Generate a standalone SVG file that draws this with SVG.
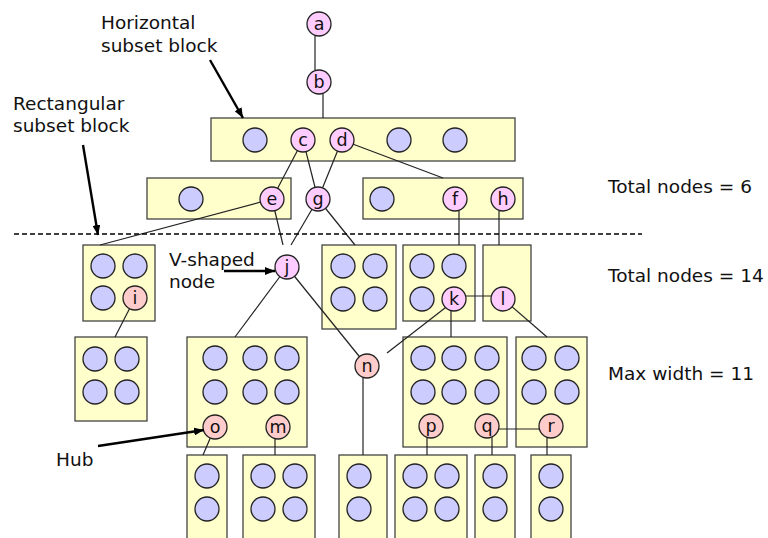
<svg xmlns="http://www.w3.org/2000/svg" width="768" height="538" viewBox="0 0 768 538">
<defs>
<style>
.blk{fill:#FFFFCC;stroke:#444;stroke-width:1.3}
.bl{fill:#CCCCFF;stroke:#222;stroke-width:1.3}
.pk{fill:#FFCCFF;stroke:#222;stroke-width:1.3}
.sa{fill:#FFCCCC;stroke:#222;stroke-width:1.3}
.cn line{stroke:#222;stroke-width:1.2}
.nl{font-family:"DejaVu Sans",Verdana,sans-serif;font-size:17.5px;fill:#111;text-anchor:middle}
.lb{font-family:"DejaVu Sans",Verdana,sans-serif;font-size:18.5px;fill:#111}
.ar{stroke:#000;stroke-width:2.4;fill:none}
</style>
<marker id="ah" markerUnits="userSpaceOnUse" markerWidth="10" markerHeight="8" refX="10" refY="4" orient="auto">
<path d="M0,0 L10,4 L0,8 Z" fill="#000"/>
</marker>
</defs>
<rect width="768" height="538" fill="#fff"/>

<g id="blocks">
<g id="blk-h"><rect class="blk" x="211" y="118" width="304" height="43"/><circle class="bl" cx="255" cy="140" r="12"/><circle class="bl" cx="399" cy="140" r="12"/><circle class="bl" cx="455" cy="140" r="12"/></g>
<g id="blk-e"><rect class="blk" x="147" y="178" width="144" height="41"/><circle class="bl" cx="191" cy="199" r="12"/></g>
<g id="blk-f"><rect class="blk" x="363" y="178" width="160" height="41"/><circle class="bl" cx="382" cy="199" r="12"/></g>
<g id="blk-i"><rect class="blk" x="83" y="245" width="72" height="76"/><circle class="bl" cx="103" cy="266" r="12"/><circle class="bl" cx="135" cy="266" r="12"/><circle class="bl" cx="103" cy="298" r="12"/></g>
<g id="blk-g"><rect class="blk" x="322" y="245" width="74" height="84"/><circle class="bl" cx="343" cy="266" r="12"/><circle class="bl" cx="375" cy="266" r="12"/><circle class="bl" cx="343" cy="299" r="12"/><circle class="bl" cx="375" cy="299" r="12"/></g>
<g id="blk-k"><rect class="blk" x="403" y="245" width="72" height="76"/><circle class="bl" cx="422" cy="266" r="12"/><circle class="bl" cx="454" cy="266" r="12"/><circle class="bl" cx="422" cy="299" r="12"/></g>
<g id="blk-l"><rect class="blk" x="483" y="245" width="48" height="76"/></g>
<g id="blk-ll"><rect class="blk" x="75" y="337" width="72" height="84"/><circle class="bl" cx="95" cy="359" r="12"/><circle class="bl" cx="127" cy="359" r="12"/><circle class="bl" cx="95" cy="392" r="12"/><circle class="bl" cx="127" cy="392" r="12"/></g>
<g id="blk-om"><rect class="blk" x="187" y="337" width="120" height="110"/><circle class="bl" cx="215" cy="358" r="12"/><circle class="bl" cx="255" cy="358" r="12"/><circle class="bl" cx="287" cy="358" r="12"/><circle class="bl" cx="215" cy="392" r="12"/><circle class="bl" cx="255" cy="392" r="12"/><circle class="bl" cx="287" cy="392" r="12"/></g>
<g id="blk-pq"><rect class="blk" x="403" y="337" width="104" height="110"/><circle class="bl" cx="423" cy="358" r="12"/><circle class="bl" cx="454" cy="358" r="12"/><circle class="bl" cx="487" cy="358" r="12"/><circle class="bl" cx="423" cy="392" r="12"/><circle class="bl" cx="454" cy="392" r="12"/><circle class="bl" cx="487" cy="392" r="12"/></g>
<g id="blk-r"><rect class="blk" x="516" y="337" width="71" height="110"/><circle class="bl" cx="534" cy="358" r="12"/><circle class="bl" cx="567" cy="358" r="12"/><circle class="bl" cx="534" cy="392" r="12"/><circle class="bl" cx="567" cy="392" r="12"/></g>
<g id="blk-b1"><rect class="blk" x="187" y="455" width="40" height="95"/><circle class="bl" cx="207" cy="476" r="12"/><circle class="bl" cx="207" cy="509" r="12"/></g>
<g id="blk-b2"><rect class="blk" x="243" y="455" width="72" height="95"/><circle class="bl" cx="263" cy="476" r="12"/><circle class="bl" cx="295" cy="476" r="12"/><circle class="bl" cx="263" cy="509" r="12"/><circle class="bl" cx="295" cy="509" r="12"/></g>
<g id="blk-b3"><rect class="blk" x="339" y="455" width="48" height="95"/><circle class="bl" cx="359" cy="476" r="12"/><circle class="bl" cx="359" cy="509" r="12"/></g>
<g id="blk-b4"><rect class="blk" x="395" y="455" width="72" height="95"/><circle class="bl" cx="415" cy="476" r="12"/><circle class="bl" cx="447" cy="476" r="12"/><circle class="bl" cx="415" cy="509" r="12"/><circle class="bl" cx="447" cy="509" r="12"/></g>
<g id="blk-b5"><rect class="blk" x="475" y="455" width="40" height="95"/><circle class="bl" cx="495" cy="476" r="12"/><circle class="bl" cx="495" cy="509" r="12"/></g>
<g id="blk-b6"><rect class="blk" x="531" y="455" width="40" height="95"/><circle class="bl" cx="551" cy="476" r="12"/><circle class="bl" cx="551" cy="509" r="12"/></g>
</g>

<g id="connectors" class="cn">
<line x1="315" y1="36" x2="315" y2="70"/>
<line x1="323" y1="94" x2="323" y2="118"/>
<line x1="303" y1="140" x2="272" y2="199"/>
<line x1="303" y1="140" x2="318" y2="199"/>
<line x1="342" y1="140" x2="318" y2="199"/>
<line x1="342" y1="140" x2="443" y2="178"/>
<line x1="272" y1="199" x2="100" y2="245"/>
<line x1="272" y1="199" x2="283" y2="245"/>
<line x1="318" y1="199" x2="291" y2="245"/>
<line x1="318" y1="199" x2="355" y2="245"/>
<line x1="459" y1="211" x2="459" y2="245"/>
<line x1="499" y1="211" x2="499" y2="245"/>
<line x1="135" y1="298" x2="115" y2="337"/>
<line x1="287" y1="267" x2="235" y2="337"/>
<line x1="287" y1="267" x2="367" y2="366"/>
<line x1="454" y1="296" x2="503" y2="296"/>
<line x1="451" y1="299" x2="451" y2="337"/>
<line x1="454" y1="301" x2="387" y2="353"/>
<line x1="503" y1="299" x2="547" y2="337"/>
<line x1="215" y1="427" x2="203" y2="455"/>
<line x1="275" y1="427" x2="275" y2="455"/>
<line x1="363" y1="366" x2="363" y2="455"/>
<line x1="487" y1="429" x2="551" y2="429"/>
<line x1="427" y1="426" x2="427" y2="455"/>
<line x1="492" y1="426" x2="492" y2="455"/>
<line x1="547" y1="426" x2="547" y2="455"/>
<line x1="14" y1="234" x2="642" y2="234" style="stroke:#000;stroke-width:1.6;stroke-dasharray:5 3"/>
</g>

<g id="node-a"><circle class="pk" cx="319" cy="24" r="12"/><text class="nl" x="319" y="29.5">a</text></g>
<g id="node-b"><circle class="pk" cx="319" cy="82" r="12"/><text class="nl" x="319" y="87.5">b</text></g>
<g id="node-c"><circle class="pk" cx="303" cy="140" r="12"/><text class="nl" x="303" y="145.5">c</text></g>
<g id="node-d"><circle class="pk" cx="342" cy="140" r="12"/><text class="nl" x="342" y="145.5">d</text></g>
<g id="node-e"><circle class="pk" cx="272" cy="199" r="12"/><text class="nl" x="272" y="204.5">e</text></g>
<g id="node-g"><circle class="pk" cx="318" cy="199" r="12"/><text class="nl" x="318" y="204.5">g</text></g>
<g id="node-f"><circle class="pk" cx="455" cy="199" r="12"/><text class="nl" x="455" y="204.5">f</text></g>
<g id="node-h"><circle class="pk" cx="503" cy="199" r="12"/><text class="nl" x="503" y="204.5">h</text></g>
<g id="node-i"><circle class="sa" cx="135" cy="298" r="12"/><text class="nl" x="135" y="303.5">i</text></g>
<g id="node-j"><circle class="pk" cx="287" cy="267" r="12"/><text class="nl" x="287" y="272.5">j</text></g>
<g id="node-k"><circle class="pk" cx="454" cy="299" r="12"/><text class="nl" x="454" y="304.5">k</text></g>
<g id="node-l"><circle class="pk" cx="503" cy="299" r="12"/><text class="nl" x="503" y="304.5">l</text></g>
<g id="node-n"><circle class="sa" cx="367" cy="366" r="12"/><text class="nl" x="367" y="371.5">n</text></g>
<g id="node-o"><circle class="sa" cx="215" cy="427" r="12"/><text class="nl" x="215" y="432.5">o</text></g>
<g id="node-m"><circle class="sa" cx="278" cy="427" r="12"/><text class="nl" x="278" y="432.5">m</text></g>
<g id="node-p"><circle class="sa" cx="431" cy="426" r="12"/><text class="nl" x="431" y="431.5">p</text></g>
<g id="node-q"><circle class="sa" cx="487" cy="426" r="12"/><text class="nl" x="487" y="431.5">q</text></g>
<g id="node-r"><circle class="sa" cx="551" cy="426" r="12"/><text class="nl" x="551" y="431.5">r</text></g>

<g id="annotations">
<text class="lb" x="101" y="29">Horizontal</text>
<text class="lb" x="101" y="52">subset block</text>
<line class="ar" x1="210" y1="60" x2="243" y2="118" marker-end="url(#ah)"/>
<text class="lb" x="13" y="110">Rectangular</text>
<text class="lb" x="13" y="132">subset block</text>
<line class="ar" x1="83" y1="145" x2="98" y2="235" marker-end="url(#ah)"/>
<text class="lb" x="169" y="266">V-shaped</text>
<text class="lb" x="169" y="288">node</text>
<line class="ar" x1="224" y1="271" x2="275" y2="271" marker-end="url(#ah)"/>
<text class="lb" x="56" y="466">Hub</text>
<line class="ar" x1="98" y1="446" x2="204" y2="430" marker-end="url(#ah)"/>
<text class="lb" x="608" y="193">Total nodes = 6</text>
<text class="lb" x="608" y="282">Total nodes = 14</text>
<text class="lb" x="608" y="380">Max width = 11</text>
</g>
</svg>
